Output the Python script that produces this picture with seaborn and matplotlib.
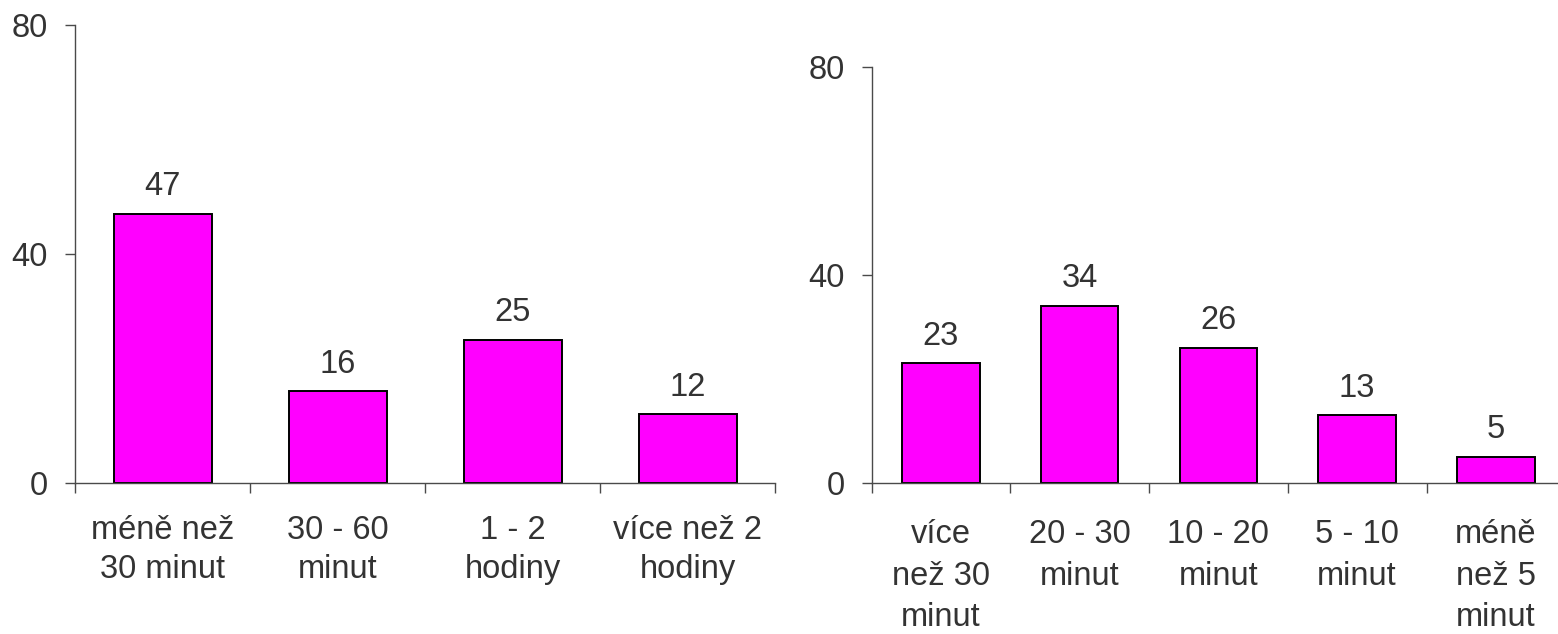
import matplotlib
matplotlib.use("Agg")
import matplotlib.pyplot as plt
import seaborn as sns
import pandas as pd

sns.set_theme(style="white")
plt.rcParams["font.family"] = ["Liberation Sans", "DejaVu Sans"]

# Left panel: time spent
left_categories = ["méně než\n30 minut", "30 - 60\nminut", "1 - 2\nhodiny", "více než 2\nhodiny"]
left_values = [47, 16, 25, 12]

# Right panel: travel time
right_categories = ["více\nnež 30\nminut", "20 - 30\nminut", "10 - 20\nminut", "5 - 10\nminut", "méně\nnež 5\nminut"]
right_values = [23, 34, 26, 13, 5]

y_ticks = [0, 40, 80]

BAR_COLOR = "#FF00FF"
TEXT_COLOR = "#333333"
AXIS_COLOR = "#4a4a4a"
FS = 23.5

W, H = 1558, 634
fig = plt.figure(figsize=(W / 100, H / 100), dpi=100)

ax_l = fig.add_axes([75 / W, (H - 483) / H, 700 / W, (483 - 25) / H])
ax_r = fig.add_axes([871.5 / W, (H - 483) / H, 693.75 / W, (483 - 67) / H])


def draw(ax, cats, vals, label_pad, spacing):
    df = pd.DataFrame({"cat": cats, "val": vals})
    sns.barplot(data=df, x="cat", y="val", ax=ax, color=BAR_COLOR,
                saturation=1, width=0.56, edgecolor="black", linewidth=1.4)
    n = len(cats)
    ax.set_xlim(-0.5, n - 0.5)
    ax.set_ylim(0, 80)
    ax.set_xlabel("")
    ax.set_ylabel("")

    for s in ["top", "right"]:
        ax.spines[s].set_visible(False)
    for s in ["left", "bottom"]:
        ax.spines[s].set_color(AXIS_COLOR)
        ax.spines[s].set_linewidth(1.0)

    # labels at category centres, tick marks at category boundaries
    ax.set_xticks(range(n))
    ax.set_xticklabels(cats, fontsize=FS, color=TEXT_COLOR, linespacing=spacing)
    ax.set_xticks([i - 0.5 for i in range(n + 1)], minor=True)
    ax.tick_params(axis="x", which="major", length=0, pad=label_pad)
    ax.tick_params(axis="x", which="minor", length=7.5, width=1.0,
                   color=AXIS_COLOR, direction="out", bottom=True)

    ax.set_yticks(y_ticks)
    ax.set_yticklabels([str(t) for t in y_ticks], fontsize=FS, color=TEXT_COLOR)
    ax.tick_params(axis="y", length=7.5, width=1.0, color=AXIS_COLOR,
                   direction="out", left=True, pad=12)

    for i, v in enumerate(vals):
        ax.annotate(str(v), (i, v), xytext=(0, 13.5), textcoords="offset points",
                    ha="center", va="baseline", fontsize=FS, color=TEXT_COLOR)


draw(ax_l, left_categories, left_values, label_pad=23, spacing=1.34)
draw(ax_r, right_categories, right_values, label_pad=26, spacing=1.44)

fig.savefig("out.png", dpi=100, facecolor="white")
